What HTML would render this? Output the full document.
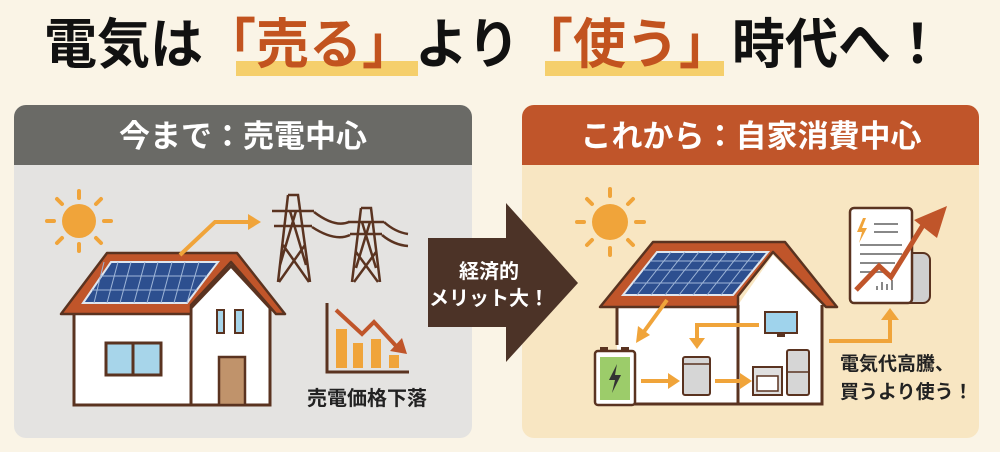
<!DOCTYPE html>
<html><head><meta charset="utf-8"><style>
html,body{margin:0;padding:0;background:#faf4e6;}
svg{display:block}
text{font-family:"Liberation Sans","Noto Sans CJK JP",sans-serif;font-weight:bold}
</style></head><body>
<svg width="1000" height="452" viewBox="0 0 1000 452" xmlns="http://www.w3.org/2000/svg">
<rect width="1000" height="452" fill="#faf4e6"/>
<!-- title highlights -->
<rect x="236" y="61" width="182" height="15" fill="#f5cf6c"/>
<rect x="545" y="61" width="179" height="15" fill="#f5cf6c"/>
<text x="494" y="63" font-size="54" text-anchor="middle" fill="#111" textLength="900" lengthAdjust="spacingAndGlyphs">電気は<tspan fill="#c2531f">「売る」</tspan>より<tspan fill="#c2531f">「使う」</tspan>時代へ！</text>

<!-- left panel -->
<rect x="14" y="105" width="458" height="333" rx="12" fill="#e4e3e1"/>
<path d="M14 165 V117 a12 12 0 0 1 12 -12 H460 a12 12 0 0 1 12 12 V165 Z" fill="#6a6a66"/>
<text x="243" y="147" font-size="31" text-anchor="middle" fill="#fff">今まで：売電中心</text>

<!-- right panel -->
<rect x="522" y="105" width="457" height="333" rx="12" fill="#f8e6c2"/>
<path d="M522 165 V117 a12 12 0 0 1 12 -12 H967 a12 12 0 0 1 12 12 V165 Z" fill="#c0552a"/>
<text x="751" y="147" font-size="31" text-anchor="middle" fill="#fff">これから：自家消費中心</text>

<!-- left sun -->
<g stroke="#f0a43a" stroke-width="4" stroke-linecap="round">
<line x1="79" y1="191" x2="79" y2="198"/><line x1="79" y1="244" x2="79" y2="251"/>
<line x1="47" y1="221" x2="54" y2="221"/><line x1="104" y1="221" x2="111" y2="221"/>
<line x1="57" y1="199" x2="62" y2="204"/><line x1="96" y1="238" x2="101" y2="243"/>
<line x1="101" y1="199" x2="96" y2="204"/><line x1="62" y1="238" x2="57" y2="243"/>
</g>
<circle cx="79" cy="221" r="17" fill="#f0a43a"/>

<!-- left house -->
<rect x="74" y="308" width="196" height="97" fill="#fff" stroke="#5a3320" stroke-width="3"/>
<polygon points="191,308 231,266 270,308 270,405 191,405" fill="#fff" stroke="#5a3320" stroke-width="3"/>
<polygon points="61,314 107,253 237,253 285,314 276,314 231,262 191,305 191,314" fill="#c0552a" stroke="#5a3320" stroke-width="2.5" stroke-linejoin="round"/>
<polygon points="83,303 111,262 218,262 187,303" fill="#2d4f8f" stroke="#dfe6ef" stroke-width="2"/>
<g stroke="#9fb6d8" stroke-width="1">
<line x1="92" y1="290" x2="197" y2="290"/><line x1="100" y1="276" x2="207" y2="276"/>
<line x1="104" y1="262" x2="94" y2="303"/><line x1="118" y1="262" x2="107" y2="303"/>
<line x1="131" y1="262" x2="120" y2="303"/><line x1="145" y1="262" x2="134" y2="303"/>
<line x1="158" y1="262" x2="147" y2="303"/><line x1="172" y1="262" x2="161" y2="303"/>
<line x1="185" y1="262" x2="174" y2="303"/><line x1="199" y1="262" x2="187" y2="303"/>
</g>
<rect x="106" y="343" width="55" height="32" fill="#a7d5ea" stroke="#5a3320" stroke-width="3"/>
<line x1="133" y1="343" x2="133" y2="375" stroke="#5a3320" stroke-width="3"/>
<rect x="217" y="310" width="7" height="23" fill="#a7d5ea" stroke="#5a3320" stroke-width="2"/>
<rect x="235" y="310" width="8" height="23" fill="#a7d5ea" stroke="#5a3320" stroke-width="2"/>
<rect x="219" y="357" width="26" height="48" fill="#c0936b" stroke="#5a3320" stroke-width="2.5"/>
<!-- arrow to towers -->
<polyline points="180,255 215,222 250,222" fill="none" stroke="#f0a43a" stroke-width="4"/>
<polygon points="248,214 261,222 248,230" fill="#f0a43a"/>
<!-- towers -->
<g stroke="#5a3320" stroke-width="2.5" fill="none">
<path d="M288 195 H298 L310 282 M288 195 L278 282 M272 211 H314 M274 226 H312 M290 211 L306 265 M296 211 L280 265 M283 245 L309 282 M305 245 L279 282"/>
<path d="M361 208 H371 L380 282 M361 208 L352 282 M348 222 H384 M350 234 H382 M362 222 L376 268 M370 222 L356 268 M356 252 L378 282 M376 252 L354 282"/>
<path d="M314 212 Q335 228 349 222 M312 227 Q335 242 350 235 M384 222 Q395 232 408 234 M382 235 Q394 245 408 246"/>
</g>
<!-- chart -->
<polyline points="327,303 327,372 409,372" fill="none" stroke="#5a3320" stroke-width="3"/>
<rect x="336" y="329" width="11" height="39" fill="#f0a43a"/>
<rect x="353" y="343" width="10" height="25" fill="#f0a43a"/>
<rect x="371" y="339" width="10" height="29" fill="#f0a43a"/>
<rect x="389" y="355" width="10" height="13" fill="#f0a43a"/>
<polyline points="336,310 362,334 374,322 397,347" fill="none" stroke="#c0552a" stroke-width="4"/>
<polygon points="390,351 407,354 402,338" fill="#c0552a"/>
<text x="367" y="405" font-size="20" text-anchor="middle" fill="#222" font-weight="normal">売電価格下落</text>

<!-- center arrow -->
<polygon points="428,238 506,238 506,203 578,283 506,362 506,327 428,327" fill="#4c3327"/>
<text x="489" y="278" font-size="20" text-anchor="middle" fill="#fff">経済的</text>
<text x="489" y="305" font-size="20" text-anchor="middle" fill="#fff">メリット大！</text>

<!-- right sun -->
<g stroke="#f0a43a" stroke-width="4" stroke-linecap="round">
<line x1="610" y1="189" x2="610" y2="196"/><line x1="610" y1="248" x2="610" y2="255"/>
<line x1="577" y1="222" x2="584" y2="222"/><line x1="636" y1="222" x2="644" y2="222"/>
<line x1="587" y1="199" x2="592" y2="204"/><line x1="628" y1="240" x2="633" y2="245"/>
<line x1="633" y1="199" x2="628" y2="204"/><line x1="592" y1="240" x2="587" y2="245"/>
</g>
<circle cx="610" cy="222" r="18" fill="#f0a43a"/>

<!-- right house -->
<rect x="617" y="305" width="205" height="99" fill="#fff"/>
<polygon points="738,305 773,255 822,305" fill="#fff"/>
<path d="M617 305 V345 M617 400 V404 H822 V305 M738 305 V404" fill="none" stroke="#5a3320" stroke-width="3"/>
<polygon points="600,307 653,242 785,242 837,307 826,307 773,252 738,296 738,307" fill="#c0552a" stroke="#5a3320" stroke-width="2.5" stroke-linejoin="round"/>
<polygon points="623,295 657,252 768,252 733,295" fill="#2d4f8f" stroke="#dfe6ef" stroke-width="2"/>
<g stroke="#9fb6d8" stroke-width="1">
<line x1="633" y1="283" x2="742" y2="283"/><line x1="643" y1="270" x2="752" y2="270"/><line x1="650" y1="261" x2="760" y2="261"/>
<line x1="671" y1="252" x2="637" y2="295"/><line x1="685" y1="252" x2="651" y2="295"/><line x1="699" y1="252" x2="665" y2="295"/>
<line x1="713" y1="252" x2="679" y2="295"/><line x1="727" y1="252" x2="693" y2="295"/><line x1="741" y1="252" x2="707" y2="295"/><line x1="755" y1="252" x2="721" y2="295"/>
</g>
<!-- battery -->
<rect x="600" y="347" width="8" height="5" fill="#5a3320"/><rect x="621" y="347" width="8" height="5" fill="#5a3320"/>
<rect x="595" y="351" width="40" height="54" rx="3" fill="#fff" stroke="#5a3320" stroke-width="2.5"/>
<rect x="600" y="357" width="30" height="43" fill="#9ccc6a"/>
<polygon points="617,364 609,380 615,380 612,393 621,375 615,375" fill="#333"/>
<!-- TV -->
<rect x="765" y="312" width="32" height="21" fill="#9fd3ec" stroke="#5a3320" stroke-width="2"/>
<rect x="777" y="334" width="8" height="3" fill="#5a3320"/>
<!-- washer -->
<rect x="683" y="357" width="27" height="38" rx="2" fill="#d6d6d6" stroke="#5a3320" stroke-width="2"/>
<line x1="683" y1="364" x2="710" y2="364" stroke="#5a3320" stroke-width="1.5"/>
<!-- oven -->
<rect x="753" y="367" width="29" height="28" fill="#e0e0e0" stroke="#5a3320" stroke-width="2"/>
<rect x="757" y="376" width="21" height="15" fill="#fff" stroke="#5a3320" stroke-width="1.5"/>
<!-- fridge -->
<rect x="787" y="350" width="22" height="45" rx="2" fill="#d6d6d6" stroke="#5a3320" stroke-width="2"/>
<line x1="787" y1="372" x2="809" y2="372" stroke="#5a3320" stroke-width="1.5"/>
<!-- arrows -->
<g stroke="#f0a43a" stroke-width="4" fill="none">
<line x1="667" y1="300" x2="643" y2="333"/>
<polyline points="759,325 697,325 697,340"/>
<line x1="641" y1="381" x2="670" y2="381"/>
<line x1="715" y1="381" x2="742" y2="381"/>
<polyline points="829,341 890,341 890,318"/>
</g>
<g fill="#f0a43a">
<polygon points="636,343 638,326 650,335"/>
<polygon points="689,338 705,338 697,349"/>
<polygon points="668,373 680,381 668,389"/>
<polygon points="740,373 752,381 740,389"/>
<polygon points="881,320 890,308 899,320"/>
</g>
<!-- bill -->
<path d="M905 253 h18 a7 7 0 0 1 7 7 v36 a7 7 0 0 1 -7 7 h-18 Z" fill="#cfcfcf" stroke="#5a3320" stroke-width="2"/>
<rect x="850" y="208" width="62" height="95" rx="4" fill="#fff" stroke="#5a3320" stroke-width="2.5"/>
<polygon points="863,218 857,232 862,232 859,243 867,228 862,228 866,218" fill="#f0a43a"/>
<g stroke="#888" stroke-width="2">
<line x1="874" y1="224" x2="898" y2="224"/><line x1="874" y1="232" x2="898" y2="232"/>
<line x1="860" y1="245" x2="902" y2="245"/><line x1="860" y1="254" x2="902" y2="254"/><line x1="860" y1="263" x2="895" y2="263"/><line x1="860" y1="272" x2="885" y2="272"/>
<line x1="877" y1="290" x2="877" y2="286"/><line x1="882" y1="290" x2="882" y2="282"/><line x1="887" y1="290" x2="887" y2="284"/><line x1="892" y1="290" x2="892" y2="280"/>
</g>
<polyline points="856,290 879,266 891,277 925,222" fill="none" stroke="#c0552a" stroke-width="5"/>
<polygon points="914,220 947,206 937,238" fill="#c0552a"/>
<text x="840" y="370" font-size="19" fill="#222">電気代高騰、</text>
<text x="840" y="398" font-size="19" fill="#222">買うより使う！</text>
</svg>
</body></html>
